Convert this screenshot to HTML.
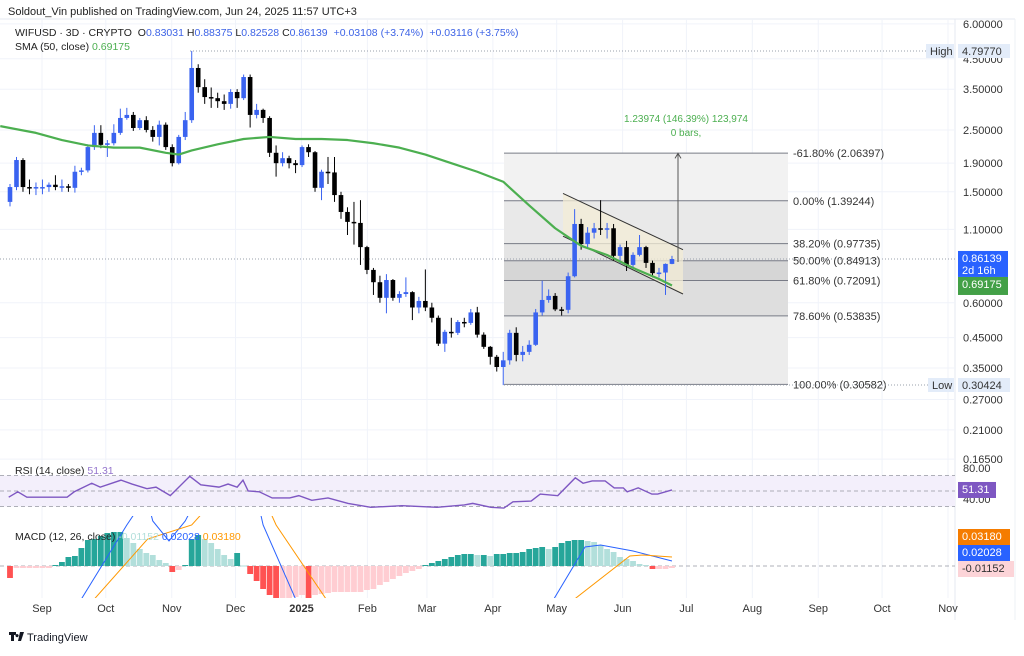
<!DOCTYPE html>
<html><head><meta charset="utf-8">
<style>
html,body{margin:0;padding:0;background:#fff;}
body{width:1024px;height:651px;overflow:hidden;font-family:"Liberation Sans",sans-serif;}
svg text{font-family:"Liberation Sans",sans-serif;}
</style></head>
<body>
<svg id="chart" width="1024" height="651" viewBox="0 0 1024 651" xmlns="http://www.w3.org/2000/svg">
<defs>
<clipPath id="mainClip"><rect x="0" y="18" width="955" height="440"/></clipPath>
<clipPath id="macdClip"><rect x="0" y="516" width="955" height="82"/></clipPath>
</defs>
<text x="8" y="15" font-size="11" fill="#222">Soldout_Vin published on TradingView.com, Jun 24, 2025 11:57 UTC+3</text>
<line x1="0" y1="19" x2="1015" y2="19" stroke="#e6e9f0"/>
<line x1="955" y1="19" x2="955" y2="620" stroke="#e6e9f0"/>
<line x1="1015" y1="19" x2="1015" y2="620" stroke="#eef0f4"/>
<g id="grid"></g>
<g id="fib"></g>
<g id="main" clip-path="url(#mainClip)"></g>
<g id="rsi"></g>
<g id="macd"></g>
<g id="axis"></g>
<g>
<text x="15" y="36" font-size="10.5" fill="#222">WIFUSD · 3D · CRYPTO <tspan dx="3">O</tspan><tspan fill="#3d63e6">0.83031</tspan> <tspan>H</tspan><tspan fill="#3d63e6">0.88375</tspan> <tspan>L</tspan><tspan fill="#3d63e6">0.82528</tspan> <tspan>C</tspan><tspan fill="#3d63e6">0.86139</tspan> <tspan fill="#3d63e6" dx="3">+0.03108 (+3.74%)</tspan> <tspan fill="#3d63e6" dx="3">+0.03116 (+3.75%)</tspan></text>
<text x="15" y="50" font-size="10.5" fill="#222">SMA (50, close) <tspan fill="#4caf50">0.69175</tspan></text>
<text x="15" y="474" font-size="10.5" fill="#222">RSI (14, close) <tspan fill="#9575cd">51.31</tspan></text>
<text x="15" y="540" font-size="10.5" fill="#222">MACD (12, 26, close) <tspan fill="#b2dfdb">-0.01152</tspan> <tspan fill="#2962ff">0.02028</tspan> <tspan fill="#ff9800">0.03180</tspan></text>
</g>
<g>
<path d="M9 632h7v3h-2v6h-3v-6H9z M17 634a1.6 1.6 0 1 0 .1 0z M20 632h4l-3 9h-3z" fill="#131722"/>
<text x="27" y="641" font-size="11" fill="#131722">TradingView</text>
</g>
</svg>
<script>
// ===== data =====
const closes=[1.56,1.95,1.56,1.55,1.56,1.56,1.59,1.56,1.57,1.55,1.77,1.79,2.17,2.44,2.21,2.24,2.44,2.76,2.83,2.54,2.71,2.50,2.36,2.61,2.17,1.90,2.36,2.71,4.17,3.56,3.28,3.25,3.17,3.10,3.42,3.25,3.87,2.83,2.95,2.76,2.07,1.90,1.98,1.90,1.87,2.17,2.08,1.55,1.77,1.76,1.46,1.27,1.17,1.16,0.950,0.787,0.711,0.625,0.724,0.625,0.645,0.655,0.577,0.609,0.577,0.530,0.428,0.472,0.468,0.512,0.508,0.554,0.461,0.417,0.384,0.353,0.373,0.468,0.390,0.400,0.424,0.554,0.614,0.635,0.568,0.566,0.747,1.15,0.974,1.07,1.11,1.10,1.11,0.884,0.950,0.820,0.891,0.950,0.834,0.766,0.770,0.827,0.861];
const firstOpen=1.38;
const highs=[1.60,2.00,1.98,1.66,1.62,1.66,1.62,1.72,1.66,1.60,1.86,1.83,2.22,2.60,2.60,2.30,2.62,2.98,3.00,2.90,2.76,2.80,2.58,2.70,2.66,2.22,2.40,2.90,4.80,4.30,3.80,3.55,3.40,3.35,3.50,3.50,3.95,3.95,3.10,2.98,2.80,2.20,2.08,2.02,1.95,2.20,2.22,2.10,1.80,2.00,2.00,1.50,1.32,1.38,1.40,0.96,0.80,0.75,0.76,0.73,0.66,0.74,0.66,0.63,0.79,0.60,0.54,0.48,0.53,0.52,0.53,0.57,0.58,0.47,0.42,0.39,0.40,0.48,0.49,0.42,0.44,0.57,0.72,0.67,0.65,0.58,0.77,1.30,1.20,1.12,1.16,1.40,1.16,1.15,0.97,1.00,0.91,1.05,0.96,0.85,0.80,0.83,0.884];
const lows=[1.33,1.52,1.50,1.47,1.46,1.47,1.50,1.52,1.50,1.50,1.49,1.72,1.76,2.12,2.15,2.00,2.20,2.40,2.72,2.48,2.50,2.45,2.27,2.20,2.12,1.85,1.88,2.30,2.65,3.40,3.10,3.00,3.00,2.95,2.98,3.00,3.20,2.55,2.75,2.65,2.00,1.70,1.85,1.82,1.75,1.84,2.00,1.50,1.40,1.60,1.38,1.20,1.05,0.97,0.82,0.76,0.64,0.60,0.55,0.61,0.60,0.63,0.52,0.55,0.56,0.51,0.42,0.40,0.45,0.46,0.49,0.50,0.45,0.41,0.36,0.34,0.304,0.36,0.37,0.37,0.39,0.42,0.54,0.60,0.56,0.54,0.55,0.74,0.93,0.95,1.02,1.05,1.02,0.85,0.83,0.78,0.80,0.88,0.80,0.74,0.74,0.64,0.825];
const smaIdx=[-1.5,4,8,12,16,20,24,26,28,32,36,40,44,48,52,56,60,64,68,72,76,80,84,88,92,96,100,102];
const smaVals=[2.58,2.44,2.30,2.20,2.16,2.16,2.07,2.04,2.11,2.22,2.32,2.36,2.32,2.32,2.30,2.24,2.16,2.04,1.90,1.77,1.63,1.34,1.11,0.96,0.89,0.80,0.73,0.69175];
const rsiIdx=[-0.2,1.2,2.6,8.8,9.9,12.6,13.9,17.1,18.8,21.1,22.5,24.7,27.7,29.4,32.2,33.6,35,35.9,36.7,38.4,40.4,43.1,44.5,46.5,49,52.1,55.6,60.4,65.8,70,71.3,74.1,76.1,77.5,80.3,81.7,84.4,87.1,88.3,89.7,91.7,93.1,94.5,95.1,96.8,98.9,99.8,102];
const rsiVals=[42,49,42,42,49,60,55,64,59,53,55,44,69,58,55,59,55,64,50,49,41,41,44,38,41,34,29,31,29,32,34,29,28,36,37,46,44,67,60,63,63,54,54,49,54,46,46,51.31];
const hist=[-12,-2,-2,-2,-2,-2,-2,1,4,9,10,18,26,27,30,33,34,34,28,23,17,13,11,6,3,-6,-4,1,27,31,27,23,17,11,7,13,0.5,-8,-15,-23,-29,-33,-33,-33,-31,-29,-33,-29,-28,-27,-26,-26,-26,-26,-26,-24,-23,-19,-16,-13,-10,-7,-5,-3,1,3,5,7,9,11,12,12,11,11,10,12,12,13,13,14,17,18,19,17,19,23,25,26,26,25,24,21,17,14,9,7,5,2,1,-3,-3,-3,-2];
const macdIdx=[8,11,18,21,22,24.5,27,29,38,39,44,47,83,83.8,88.6,91,96,102];
const macdVals=[-70,-33,41,70,45,25,45,70,70,41,-33,-70,-70,-33,19,21,15,5];
const sigIdx=[10,13,21.2,28,32,39,41,48.7,55,83,87,95.5,97.5,102];
const sigVals=[-70,-33,27,41,70,70,41,-33,-70,-70,-33,10,11,9];
const channelUpper=[1.48,0.93];
const channelLower=[1.04,0.645];
const priceTicks=[6.0,4.5,3.5,2.5,1.9,1.5,1.1,0.6,0.45,0.35,0.27,0.21,0.165];
const priceTickLabels=["6.00000","4.50000","3.50000","2.50000","1.90000","1.50000","1.10000","0.60000","0.45000","0.35000","0.27000","0.21000","0.16500"];
const monthLabels=["Sep","Oct","Nov","Dec","2025","Feb","Mar","Apr","May","Jun","Jul","Aug","Sep","Oct","Nov"];
const monthDays=[0,30,61,91,122,153,181,212,242,273,303,334,365,395,426];
const fibPct=["-61.80%","0.00%","38.20%","50.00%","61.80%","78.60%","100.00%"];
const fibPrices=[2.06397,1.39244,0.97735,0.84913,0.72091,0.53835,0.30582];
const highVal=4.79770, lowVal=0.30424, lastVal=0.86139, smaLast=0.69175;

// ===== axis functions =====
const NS="http://www.w3.org/2000/svg";
const xC=i=>10+i*6.49;
const yP=p=>51+121.1*Math.log(4.7977/p);
const xD=d=>42+d*(948-42)/426;
const yR=v=>491-(v-50)*0.775;
const yM=v=>566-v;
function mk(tag,attrs,parent){const e=document.createElementNS(NS,tag);for(const k in attrs)e.setAttribute(k,attrs[k]);parent.appendChild(e);return e;}
const grid=document.getElementById('grid'),main=document.getElementById('main'),fib=document.getElementById('fib'),rsi=document.getElementById('rsi'),macd=document.getElementById('macd'),axis=document.getElementById('axis');

priceTicks.forEach((p,k)=>{
 const y=yP(p);
 const g=mk('line',{x1:0,x2:955,y1:y,y2:y,stroke:'#f0f3fa'},grid);
 
 
 const t=mk('text',{x:963,y:y+4,'font-size':11,fill:'#333'},axis);
 t.textContent=priceTickLabels[k];
 
 
});
monthLabels.forEach((m,k)=>{
 const x=xD(monthDays[k]);
 const g=mk('line',{x1:x,x2:x,y1:19,y2:598,stroke:'#f0f3fa'},grid);
 
 
 const t=mk('text',{x:x,y:612,'font-size':11,fill:'#333','text-anchor':'middle','font-weight':m==='2025'?'bold':'normal'},axis);
 t.textContent=m;
 
 
});

const fx1=504,fx2=788;
const fibFill=['#f2f2f2','#e9e9e9','#e4e4e4','#d6d6d6','#dedede','#ececec'];
for(let k=0;k<fibPrices.length-1;k++){
 const r=mk('rect',{x:fx1,y:yP(fibPrices[k]),width:fx2-fx1,height:yP(fibPrices[k+1])-yP(fibPrices[k]),fill:fibFill[k]},fib);
 
 
}
fibPrices.forEach((p,k)=>{
 const y=yP(p);
 const l=mk('line',{x1:fx1,x2:fx2,y1:y,y2:y,stroke:'#787b86','stroke-width':1},fib);
 
 
 const t=mk('text',{x:793,y:y+4,'font-size':11,fill:'#333'},fib);
 t.textContent=fibPct[k]+' ('+p.toFixed(5)+')';
 
 
});

[[highVal,190,930],[lowVal,504,930],[lastVal,0,955]].forEach(a=>{
 const y=yP(a[0]);
 const l=mk('line',{x1:a[1],x2:a[2],y1:y,y2:y,stroke:'#9aa0ab','stroke-dasharray':'1,2'},main);
 
 
});

const ch=mk('polygon',{points:`563,${yP(channelUpper[0])} 683,${yP(channelUpper[1])} 683,${yP(channelLower[1])} 563,${yP(channelLower[0])}`,fill:'#f3ecd6','fill-opacity':0.75},main);


[channelUpper,channelLower].forEach(a=>{
 const l=mk('line',{x1:563,y1:yP(a[0]),x2:683,y2:yP(a[1]),stroke:'#333','stroke-width':1},main);
 
 
});

closes.forEach((c,i)=>{
 const o=i===0?firstOpen:closes[i-1];
 const up=c>=o, col=up?'#3a63f0':'#000';
 const x=xC(i);
 const w=mk('line',{x1:x,x2:x,y1:yP(highs[i]),y2:yP(lows[i]),stroke:col,'stroke-width':1},main);
 
 
 const yt=yP(Math.max(o,c)),yb=yP(Math.min(o,c));
 const b=mk('rect',{x:x-2.3,y:yt,width:4.6,height:Math.max(1.5,yb-yt),fill:col},main);
 
 
});

const sma=mk('polyline',{points:smaIdx.map((k,j)=>xC(k)+','+yP(smaVals[j])).join(' '),fill:'none',stroke:'#4caf50','stroke-width':2.2,'stroke-linejoin':'round'},main);



const ax=678;
const ar=mk('line',{x1:ax,x2:ax,y1:yP(0.84),y2:yP(2.06),stroke:'#555','stroke-width':1},main);


const ah=mk('path',{d:`M${ax-3},${yP(2.06)+5} L${ax},${yP(2.06)} L${ax+3},${yP(2.06)+5}`,fill:'none',stroke:'#555'},main);


const pt1=mk('text',{x:686,y:122,'font-size':10,fill:'#4caf50','text-anchor':'middle'},main);
pt1.textContent='1.23974 (146.39%) 123,974';


const pt2=mk('text',{x:686,y:136,'font-size':10,fill:'#4caf50','text-anchor':'middle'},main);
pt2.textContent='0 bars,';



function badge(y,h,bg,fg,lines,name,x,w){
 const r=mk('rect',{x:x,y:y,width:w,height:h,fill:bg},axis);
 
 
 lines.forEach((s,k)=>{const t=mk('text',{x:x+4,y:y+11+k*12,'font-size':11,fill:fg},axis);t.textContent=s;});
}
badge(yP(highVal)-7,14,'#e3ecf9','#333',[highVal.toFixed(5)],'high-price-badge',958,52);
badge(yP(highVal)-7,14,'#e3ecf9','#333',['High'],'high-tag',926,28);
badge(yP(lowVal)-7,14,'#e3ecf9','#333',[lowVal.toFixed(5)],'low-price-badge',958,52);
badge(yP(lowVal)-7,14,'#e3ecf9','#333',['Low'],'low-tag',928,26);
badge(yP(lastVal)-8,26,'#2962ff','#fff',[lastVal.toFixed(5),'2d 16h'],'last-price-badge',958,50);
badge(yP(lastVal)+18,18,'#43a047','#fff',[smaLast.toFixed(5)],'sma-price-badge',958,50);

const band=mk('rect',{x:0,y:yR(70),width:955,height:yR(30)-yR(70),fill:'#f3effb'},rsi);


[70,50,30].forEach(v=>{
 const l=mk('line',{x1:0,x2:955,y1:yR(v),y2:yR(v),stroke:'#9598a1','stroke-dasharray':'4,3','stroke-width':0.8},rsi);
 
 
});
const rl=mk('polyline',{points:rsiIdx.map((k,j)=>xC(k)+','+yR(rsiVals[j])).join(' '),fill:'none',stroke:'#7e57c2','stroke-width':1.4},rsi);


const t80=mk('text',{x:963,y:yR(80)+4,'font-size':11,fill:'#333'},axis);t80.textContent='80.00';


const t40=mk('text',{x:963,y:yR(40)+4,'font-size':11,fill:'#333'},axis);t40.textContent='40.00';


badge(yR(51.31)-8,16,'#7e57c2','#fff',['51.31'],'rsi-value-badge',958,38);

const zl=mk('line',{x1:0,x2:955,y1:yM(0),y2:yM(0),stroke:'#9598a1','stroke-dasharray':'4,3','stroke-width':0.8},macd);


const mg=mk('g',{'clip-path':'url(#macdClip)'},macd);
hist.forEach((v,i)=>{
 const prev=i===0?0:hist[i-1];
 let col;
 if(v>=0) col=v>=prev?'#26a69a':'#b2dfdb'; else col=v<prev?'#ff5252':'#ffcdd2';
 const y0=yM(0),y1=yM(v);
 const r=mk('rect',{x:xC(i)-2.9,y:Math.min(y0,y1),width:5.8,height:Math.max(1,Math.abs(y1-y0)),fill:col},mg);
 
 
});
const ml=mk('polyline',{points:macdIdx.map((k,j)=>xC(k)+','+yM(macdVals[j])).join(' '),fill:'none',stroke:'#2962ff','stroke-width':1},mg);


const sl=mk('polyline',{points:sigIdx.map((k,j)=>xC(k)+','+yM(sigVals[j])).join(' '),fill:'none',stroke:'#ff9800','stroke-width':1},mg);


badge(529,16,'#f57c00','#fff',['0.03180'],'signal-value-badge',958,52);
badge(545,16,'#2962ff','#fff',['0.02028'],'macd-value-badge',958,52);
badge(561,16,'#fcd4d8','#333',['-0.01152'],'histogram-value-badge',958,56);
</script>
</body></html>
